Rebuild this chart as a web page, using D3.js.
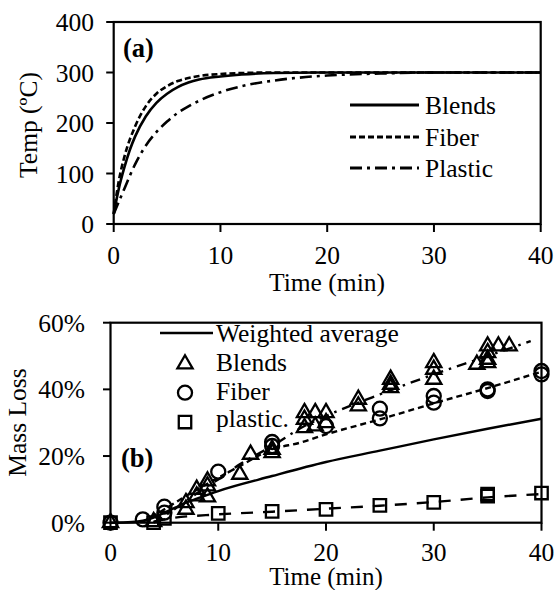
<!DOCTYPE html>
<html><head><meta charset="utf-8">
<script src="https://cdn.jsdelivr.net/npm/d3@7"></script>
<style>
body{margin:0;background:#fff;}
text{font-family:"Liberation Serif","Times New Roman",serif;font-size:25.5px;fill:#000;}
</style></head><body>
<svg id="chart" width="556" height="590"></svg>
<script>
// ---------- Panel (a): temperature profiles ----------
const tempTicksY = [0, 100, 200, 300, 400];
const timeTicks = [0, 10, 20, 30, 40];
const tempBlends = [[0,20],[0.5,72],[1,112],[1.5,146],[2,173],[3,213],[4,240],[5,258],[6,271],[7,280],[8,286],[10,292],[12,296],[15,299],[20,300],[30,300],[40,300]];
const tempFiber = [[0,20],[0.5,88],[1,133],[2,193],[3,233],[4,258],[5,273],[6,283],[7,289],[8,293],[10,297],[12,299],[15,300],[20,300],[30,300],[40,300]];
const tempPlastic = [[0,20],[0.5,45],[1,70],[2,118],[3,155],[4,182],[5,203],[6,220],[7,233],[8,244],[10,261],[12,273],[15,284],[18,291],[20,294],[25,298],[30,300],[40,300]];
const legendA = ["Blends", "Fiber", "Plastic"];

// ---------- Panel (b): mass loss ----------
const massTicksY = [0, 20, 40, 60];
const weightedAvg = [[0,0],[2,0.2],[3,0.6],[4,1.5],[5,3],[6,4.5],[7,6],[8,7.2],[10,9.5],[15,14],[20,18.2],[25,21.6],[30,25],[35,28.2],[40,31.2]];
const blendsPts = [[0,0],[4,0.3],[7,4],[7,6],[8,8],[8,10],[9,7.7],[9,11],[9,12.5],[12,14.5],[13,20.5],[15,21],[15,22],[18,28.5],[18,31],[18,33],[19,29],[19,33],[20,30],[20,33],[23,35],[23,37],[26,40.5],[26,41.5],[26,43],[30,43],[30,46],[30,48],[34,47.5],[35,48],[35,49],[35,51],[35,53],[36,53],[37,53]];
const fiberPts = [[0,0],[3,1],[5,3],[5,4.8],[10,15.3],[15,23],[15,24.2],[20,29],[25,31.3],[25,34.2],[30,36],[30,38],[35,39.5],[35,40],[40,44.5],[40,45.5]];
const plasticPts = [[0,0],[4,0],[5,1.3],[10,2.8],[15,3.4],[20,4],[25,5.2],[30,6.1],[35,8],[35,8.6],[40,8.9]];
const blendsFit = [[4,0],[5,2],[7,6.5],[9,11],[10,13],[12,17.5],[15,23],[18,29],[20,32],[25,38.5],[30,44.5],[35,50],[39,54.5]];
const fiberFit = [[3,0.2],[5,4],[7,8],[10,13.5],[12,17],[15,22],[17.6,24],[20,26.5],[25,31],[30,35.8],[35,40.4],[40,45.3]];
const plasticFit = [[4,0.3],[5,1],[10,2.5],[15,3.3],[20,4.2],[25,5.1],[30,6.2],[35,7.6],[40,8.6]];
const legendB = ["Weighted average", "Blends", "Fiber", "plastic."];

const svg = d3.select("#chart");

function drawAxes(g, x, y, yTicks, yFmt, x0, x1, y0, y1, yLabelEnd, xLabelBase) {
  g.append("rect").attr("x", x0).attr("y", y1).attr("width", x1 - x0).attr("height", y0 - y1)
    .attr("fill", "none").attr("stroke", "#000").attr("stroke-width", 2.2);
  yTicks.forEach(v => {
    g.append("line").attr("x1", x0 - 7.5).attr("x2", x0).attr("y1", y(v)).attr("y2", y(v))
      .attr("stroke", "#000").attr("stroke-width", 2);
    g.append("text").attr("x", yLabelEnd).attr("y", y(v) + 9).attr("text-anchor", "end").text(yFmt(v));
  });
  timeTicks.forEach(v => {
    g.append("line").attr("x1", x(v)).attr("x2", x(v)).attr("y1", y0).attr("y2", y0 + 8)
      .attr("stroke", "#000").attr("stroke-width", 2);
    g.append("text").attr("x", x(v)).attr("y", xLabelBase).attr("text-anchor", "middle").text(v);
  });
}

// ----- Panel A -----
const xA = d3.scaleLinear().domain([0, 40]).range([113.7, 540.7]);
const yA = d3.scaleLinear().domain([0, 400]).range([224, 22]);
const gA = svg.append("g");
drawAxes(gA, xA, yA, tempTicksY, d => d, 113.7, 540.7, 224, 22, 94, 264);
gA.append("text").attr("x", 327).attr("y", 291).attr("text-anchor", "middle").text("Time (min)");
gA.append("text").attr("transform", "translate(37,125) rotate(-90)").attr("text-anchor", "middle").text("Temp (ºC)");
gA.append("text").attr("x", 123).attr("y", 57).style("font-weight", "bold").style("font-size", "26.5px").text("(a)");

const lineA = d3.line().x(d => xA(d[0])).y(d => yA(d[1])).curve(d3.curveMonotoneX);
const stylesA = [
  {data: tempBlends, dash: null},
  {data: tempFiber, dash: "6,3"},
  {data: tempPlastic, dash: "12,5,3,5"}
];
stylesA.forEach(s => {
  gA.append("path").attr("d", lineA(s.data)).attr("fill", "none").attr("stroke", "#000")
    .attr("stroke-width", 2.6).attr("stroke-dasharray", s.dash);
});
const legAy = [105, 137, 168];
legendA.forEach((name, i) => {
  gA.append("line").attr("x1", 350).attr("x2", 419).attr("y1", legAy[i]).attr("y2", legAy[i])
    .attr("stroke", "#000").attr("stroke-width", 2.8).attr("stroke-dasharray", stylesA[i].dash);
  gA.append("text").attr("x", 425).attr("y", legAy[i] + 8.5).text(name);
});

// ----- Panel B -----
const xB = d3.scaleLinear().domain([0, 40]).range([110.5, 541.5]);
const yB = d3.scaleLinear().domain([0, 60]).range([522.7, 322.7]);
const gB = svg.append("g");
drawAxes(gB, xB, yB, massTicksY, d => d + "%", 110.5, 541.5, 522.7, 322.7, 85, 561);
gB.append("text").attr("x", 326).attr("y", 584.5).attr("text-anchor", "middle").style("font-size", "25px").text("Time (min)");
gB.append("text").attr("transform", "translate(26,422.5) rotate(-90)").attr("text-anchor", "middle").text("Mass Loss");
gB.append("text").attr("x", 121).attr("y", 467).style("font-weight", "bold").style("font-size", "26.5px").text("(b)");

const lineB = d3.line().x(d => xB(d[0])).y(d => yB(d[1])).curve(d3.curveMonotoneX);
gB.append("path").attr("d", lineB(weightedAvg)).attr("fill", "none").attr("stroke", "#000").attr("stroke-width", 2.4);
gB.append("path").attr("d", lineB(blendsFit)).attr("fill", "none").attr("stroke", "#000").attr("stroke-width", 2.4).attr("stroke-dasharray", "10,6,2.5,6");
gB.append("path").attr("d", lineB(fiberFit)).attr("fill", "none").attr("stroke", "#000").attr("stroke-width", 2.4).attr("stroke-dasharray", "6,4");
gB.append("path").attr("d", lineB(plasticFit)).attr("fill", "none").attr("stroke", "#000").attr("stroke-width", 2.4).attr("stroke-dasharray", "12,10");

const triSym = d3.symbol().type(d3.symbolTriangle).size(100);
const cirSym = d3.symbol().type(d3.symbolCircle).size(155);
const sqSym = d3.symbol().type(d3.symbolSquare).size(155);
function marks(data, sym) {
  gB.selectAll(null).data(data).enter().append("path")
    .attr("d", sym).attr("transform", d => `translate(${xB(d[0])},${yB(d[1])})`)
    .attr("fill", "none").attr("stroke", "#000").attr("stroke-width", 2.3);
}
marks(plasticPts, sqSym);
marks(fiberPts, cirSym);
marks(blendsPts, triSym);

// legend B
gB.append("line").attr("x1", 160).attr("x2", 213).attr("y1", 333).attr("y2", 333).attr("stroke", "#000").attr("stroke-width", 2.6);
const legBy = [341.5, 371, 400, 427];
legendB.forEach((name, i) => {
  gB.append("text").attr("x", 216).attr("y", legBy[i]).text(name);
});
const legSyms = [[364, triSym], [392.7, cirSym], [422, sqSym]];
legSyms.forEach(([yy, sym]) => {
  gB.append("path").attr("d", sym).attr("transform", `translate(185,${yy})`)
    .attr("fill", "none").attr("stroke", "#000").attr("stroke-width", 2.3);
});
</script>
</body></html>
